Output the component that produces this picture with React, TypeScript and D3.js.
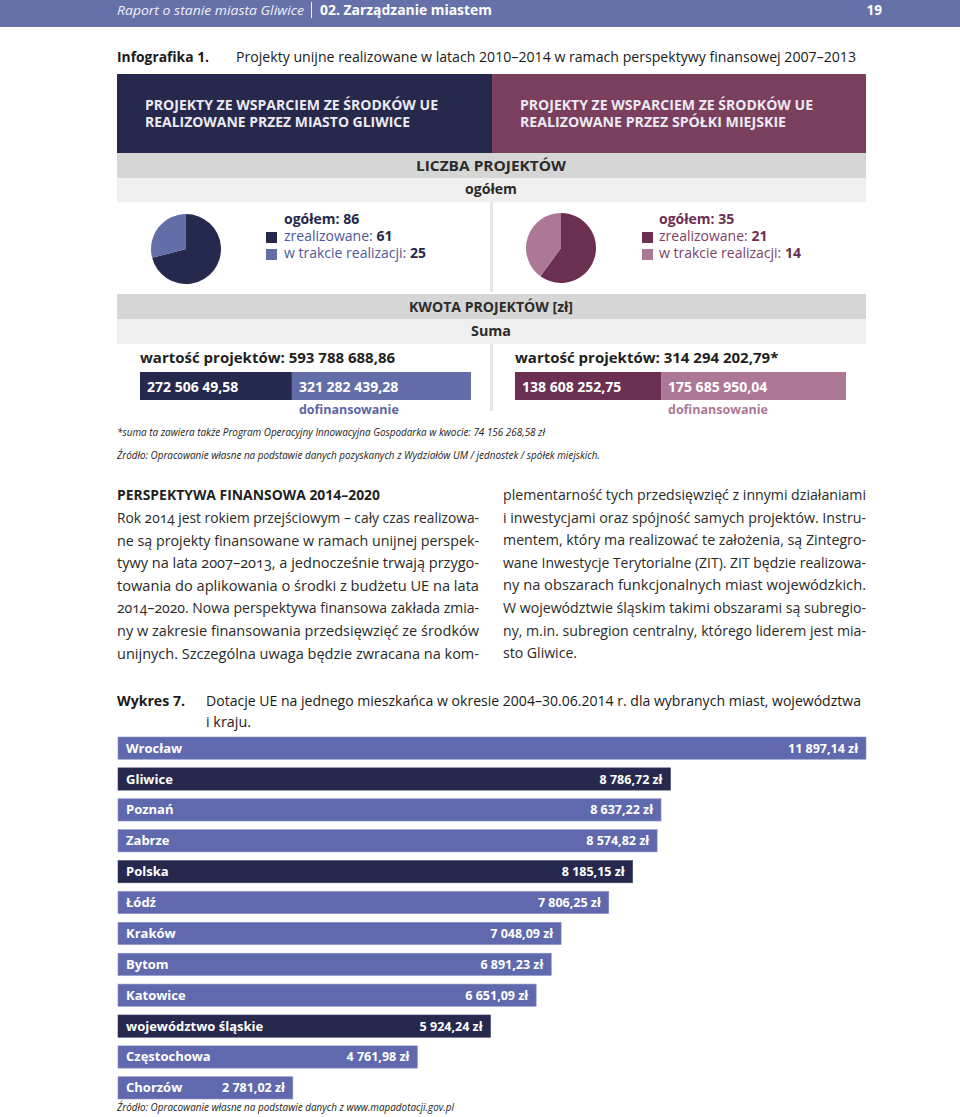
import React from 'react';
import * as d3 from 'd3';

const FONT = "'Open Sans', 'Noto Sans', sans-serif";

// ---------- DATA ----------
const headerLeft = 'Raport o stanie miasta Gliwice';
const headerSection = '02. Zarządzanie miastem';
const pageNumber = '19';

const infoTitleLabel = 'Infografika 1.';
const infoTitle = 'Projekty unijne realizowane w latach  2010–2014 w ramach perspektywy finansowej 2007–2013';

const groupTitleLine1 = ['PROJEKTY ZE WSPARCIEM ZE ŚRODKÓW UE', 'PROJEKTY ZE WSPARCIEM ZE ŚRODKÓW UE'];
const groupTitleLine2 = ['REALIZOWANE PRZEZ MIASTO GLIWICE', 'REALIZOWANE PRZEZ SPÓŁKI MIEJSKIE'];

const countTotals = [86, 35];
const countRealized = [61, 21];
const countInProgress = [25, 14];

const amountOwn = [272506249.58, 138608252.75];
const amountCofinanced = [321282439.28, 175685950.04];
const amountTotalLabels = ['593 788 688,86', '314 294 202,79*'];
const amountOwnLabels = ['272 506 49,58', '138 608 252,75'];
const amountCofinancedLabels = ['321 282 439,28', '175 685 950,04'];

const footnote = '*suma ta zawiera także Program Operacyjny Innowacyjna Gospodarka w kwocie: 74 156 268,58 zł';
const sourceInfo = 'Źródło: Opracowanie własne na podstawie danych pozyskanych z Wydziałów UM / jednostek / spółek miejskich.';

const paraHeading = 'PERSPEKTYWA FINANSOWA 2014–2020';
const leftLines = [
  'Rok 2014 jest rokiem przejściowym – cały czas realizowa-',
  'ne są projekty finansowane w ramach unijnej perspek-',
  'tywy na lata 2007–2013, a jednocześnie trwają przygo-',
  'towania do aplikowania o środki z budżetu UE na lata',
  '2014–2020. Nowa perspektywa finansowa zakłada zmia-',
  'ny w zakresie finansowania przedsięwzięć ze środków',
  'unijnych. Szczególna uwaga będzie zwracana na kom-',
];
const rightLines = [
  'plementarność tych przedsięwzięć z innymi działaniami',
  'i inwestycjami oraz spójność samych projektów. Instru-',
  'mentem, który ma realizować te założenia, są Zintegro-',
  'wane Inwestycje Terytorialne (ZIT). ZIT będzie realizowa-',
  'ny na obszarach funkcjonalnych miast wojewódzkich.',
  'W województwie śląskim takimi obszarami są subregio-',
  'ny, m.in. subregion centralny, którego liderem jest mia-',
  'sto Gliwice.',
];

const chartLabel = 'Wykres 7.';
const chartTitle1 = 'Dotacje UE na jednego mieszkańca w okresie 2004–30.06.2014 r. dla wybranych miast, województwa';
const chartTitle2 = 'i kraju.';
const barCategories = ['Wrocław', 'Gliwice', 'Poznań', 'Zabrze', 'Polska', 'Łódź', 'Kraków', 'Bytom', 'Katowice', 'województwo śląskie', 'Częstochowa', 'Chorzów'];
const barValues = [11897.14, 8786.72, 8637.22, 8574.82, 8185.15, 7806.25, 7048.09, 6891.23, 6651.09, 5924.24, 4761.98, 2781.02];
const barHighlighted = ['Gliwice', 'Polska', 'województwo śląskie'];
const chartSource = 'Źródło: Opracowanie własne na podstawie danych z www.mapadotacji.gov.pl';

// ---------- STYLE ----------
const palettes = [
  { box: '#26294b', dark: '#25294d', light: '#636ea9', text: '#4d589b', strong: '#25294d' },
  { box: '#7b3f5e', dark: '#6b2f52', light: '#ad7896', text: '#7d3f66', strong: '#6b2f52' },
];

const locale = d3.formatLocale({ decimal: ',', thousands: ' ', grouping: [3], currency: ['', ' zł'] });
const fmtZl = locale.format('$,.2f');

const T = (props: any) => {
  const { children, w, ...rest } = props;
  return (
    <text fontFamily={FONT} {...rest} {...(w ? { textLength: w, lengthAdjust: 'spacingAndGlyphs' } : {})}>
      {children}
    </text>
  );
};

export default function App() {
  const W = 960, H = 1117;
  const L = 117, R = 866, MID = 492;

  const pie = d3.pie<number>().sort(null).value((d) => d);
  const arc = d3.arc<any>().innerRadius(0).outerRadius(35);
  const pieCenters = [[186, 249], [561, 248]];

  const amountX = [140, 515];
  const amountW = 331;

  // bar chart scales
  const x = d3.scaleLinear().domain([0, d3.max(barValues) as number]).range([118, 866]);
  const y = d3.scaleBand<string>().domain(barCategories).range([737, 1099]).paddingInner(0.28).paddingOuter(0);

  return (
    <svg width={W} height={H} viewBox={`0 0 ${W} ${H}`} style={{ position: 'absolute', left: 0, top: 0, background: '#fff' }}>
      {/* page header */}
      <rect x={0} y={0} width={W} height={27} fill="#6671a9" />
      <T x={117} y={15} fontSize={13.5} fontStyle="italic" fill="#eef0f8" w={187}>{headerLeft}</T>
      <rect x={311} y={2} width={1} height={16} fill="#eef0f8" />
      <T x={320} y={15} fontSize={13.5} fontWeight={700} fill="#ffffff" w={172}>{headerSection}</T>
      <T x={882} y={15} fontSize={13.5} fontWeight={700} fill="#ffffff" textAnchor="end">{pageNumber}</T>

      {/* infographic title */}
      <T x={117} y={62} fontSize={15} fontWeight={700} fill="#1a1a1a" w={92}>{infoTitleLabel}</T>
      <T x={236} y={62} fontSize={15} fill="#1a1a1a" w={620}>{infoTitle}</T>

      {/* group header boxes */}
      {[0, 1].map((i) => (
        <g key={'box' + i}>
          <rect x={i === 0 ? L : MID} y={74} width={i === 0 ? MID - L : R - MID} height={79} fill={palettes[i].box} />
          <T x={i === 0 ? 145 : 520} y={110} fontSize={14.5} fontWeight={700} fill="#eceaf2" w={293}>{groupTitleLine1[i]}</T>
          <T x={i === 0 ? 145 : 520} y={127} fontSize={14.5} fontWeight={700} fill="#eceaf2" w={i === 0 ? 265 : 266}>{groupTitleLine2[i]}</T>
        </g>
      ))}

      {/* LICZBA PROJEKTÓW bands */}
      <rect x={L} y={153} width={R - L} height={25} fill="#d6d6d6" />
      <rect x={L} y={178} width={R - L} height={24} fill="#efefef" />
      <T x={491} y={171} fontSize={14.5} fontWeight={700} fill="#2b2b2b" textAnchor="middle" w={150}>LICZBA PROJEKTÓW</T>
      <T x={491} y={194} fontSize={14.5} fontWeight={700} fill="#2b2b2b" textAnchor="middle" w={52}>ogółem</T>

      {/* divider */}
      <rect x={490} y={202} width={3} height={90} fill="#e6e6e6" />
      <rect x={490} y={344} width={3} height={67} fill="#e6e6e6" />

      {/* pies + legends */}
      {[0, 1].map((i) => {
        const arcs = pie([countRealized[i], countInProgress[i]]);
        const [cx, cy] = pieCenters[i];
        const lx = i === 0 ? 284 : 659;
        const sx = i === 0 ? 266 : 642;
        const p = palettes[i];
        return (
          <g key={'pie' + i}>
            <g transform={`translate(${cx},${cy})`}>
              {arcs.map((a, j) => (
                <path key={j} d={arc(a) as string} fill={j === 0 ? p.dark : p.light} />
              ))}
            </g>
            <T x={lx} y={224} fontSize={14} fontWeight={700} fill={p.strong}>{`ogółem: ${countTotals[i]}`}</T>
            <rect x={sx} y={232} width={11} height={11} fill={p.dark} />
            <rect x={sx} y={249} width={11} height={11} fill={p.light} />
            <T x={lx} y={241} fontSize={14} fill={p.text}>
              {'zrealizowane: '}
              <tspan fontWeight={700} fill={p.strong}>{countRealized[i]}</tspan>
            </T>
            <T x={lx} y={258} fontSize={14} fill={p.text}>
              {'w trakcie realizacji: '}
              <tspan fontWeight={700} fill={p.strong}>{countInProgress[i]}</tspan>
            </T>
          </g>
        );
      })}

      {/* KWOTA bands */}
      <rect x={L} y={294} width={R - L} height={25} fill="#d6d6d6" />
      <rect x={L} y={319} width={R - L} height={25} fill="#efefef" />
      <T x={491} y={312} fontSize={14.5} fontWeight={700} fill="#2b2b2b" textAnchor="middle" w={164}>KWOTA PROJEKTÓW [zł]</T>
      <T x={491} y={336} fontSize={14.5} fontWeight={700} fill="#2b2b2b" textAnchor="middle" w={40}>Suma</T>

      {[0, 1].map((i) => {
        const p = palettes[i];
        const total = amountOwn[i] + amountCofinanced[i];
        const s = d3.scaleLinear().domain([0, total]).range([amountX[i], amountX[i] + amountW]);
        const split = s(amountOwn[i]);
        return (
          <g key={'amt' + i}>
            <T x={amountX[i]} y={363} fontSize={15} fontWeight={700} fill="#1f1f1f">{`wartość projektów: ${amountTotalLabels[i]}`}</T>
            <rect x={s(0)} y={372} width={split - s(0)} height={28} fill={p.dark} />
            <rect x={split} y={372} width={s(total) - split} height={28} fill={p.light} />
            <T x={amountX[i] + 7} y={392} fontSize={14} fontWeight={700} fill="#ffffff">{amountOwnLabels[i]}</T>
            <T x={split + 7} y={392} fontSize={14} fontWeight={700} fill="#ffffff">{amountCofinancedLabels[i]}</T>
            <T x={split + 7} y={414} fontSize={12.5} fontWeight={700} fill={i === 0 ? '#5b66a6' : '#ad7896'}>dofinansowanie</T>
          </g>
        );
      })}

      <T x={117} y={436} fontSize={11} fontStyle="italic" fill="#222" w={428}>{footnote}</T>
      <T x={117} y={459} fontSize={11} fontStyle="italic" fill="#222" w={483}>{sourceInfo}</T>

      {/* text columns */}
      <T x={117} y={500} fontSize={14.5} fontWeight={700} fill="#1f1f1f" w={263}>{paraHeading}</T>
      {leftLines.map((line, k) => (
        <T key={'l' + k} x={117} y={523 + k * 22.6} fontSize={14.5} fill="#2a2a2a" w={362} style={{ fontVariantNumeric: 'oldstyle-nums' }}>{line}</T>
      ))}
      {rightLines.map((line, k) => (
        <T key={'r' + k} x={503} y={500 + k * 22.6} fontSize={14.5} fill="#2a2a2a" w={k === rightLines.length - 1 ? 74 : 363} style={{ fontVariantNumeric: 'oldstyle-nums' }}>{line}</T>
      ))}

      {/* chart title */}
      <T x={117} y={706} fontSize={15} fontWeight={700} fill="#1a1a1a" w={68}>{chartLabel}</T>
      <T x={206} y={706} fontSize={15} fill="#1a1a1a" w={655}>{chartTitle1}</T>
      <T x={206} y={727} fontSize={15} fill="#1a1a1a" w={45}>{chartTitle2}</T>

      {/* bars */}
      {barCategories.map((c, k) => {
        const v = barValues[k];
        const yy = y(c) as number;
        const bw = y.bandwidth();
        const dark = barHighlighted.includes(c);
        return (
          <g key={'bar' + k}>
            <rect x={x(0)} y={yy} width={x(v) - x(0)} height={bw} fill={dark ? '#26294d' : '#6069ad'} stroke={dark ? '#3a3e66' : '#8a92c6'} strokeWidth={0.6} />
            <T x={x(0) + 8} y={yy + bw / 2 + 4.5} fontSize={13} fontWeight={700} fill="#ffffff">{c}</T>
            <T x={x(v) - 8} y={yy + bw / 2 + 4.5} fontSize={12.5} fontWeight={700} fill="#ffffff" textAnchor="end">{fmtZl(v)}</T>
          </g>
        );
      })}

      <T x={117} y={1111} fontSize={11} fontStyle="italic" fill="#222" w={337}>{chartSource}</T>
    </svg>
  );
}
